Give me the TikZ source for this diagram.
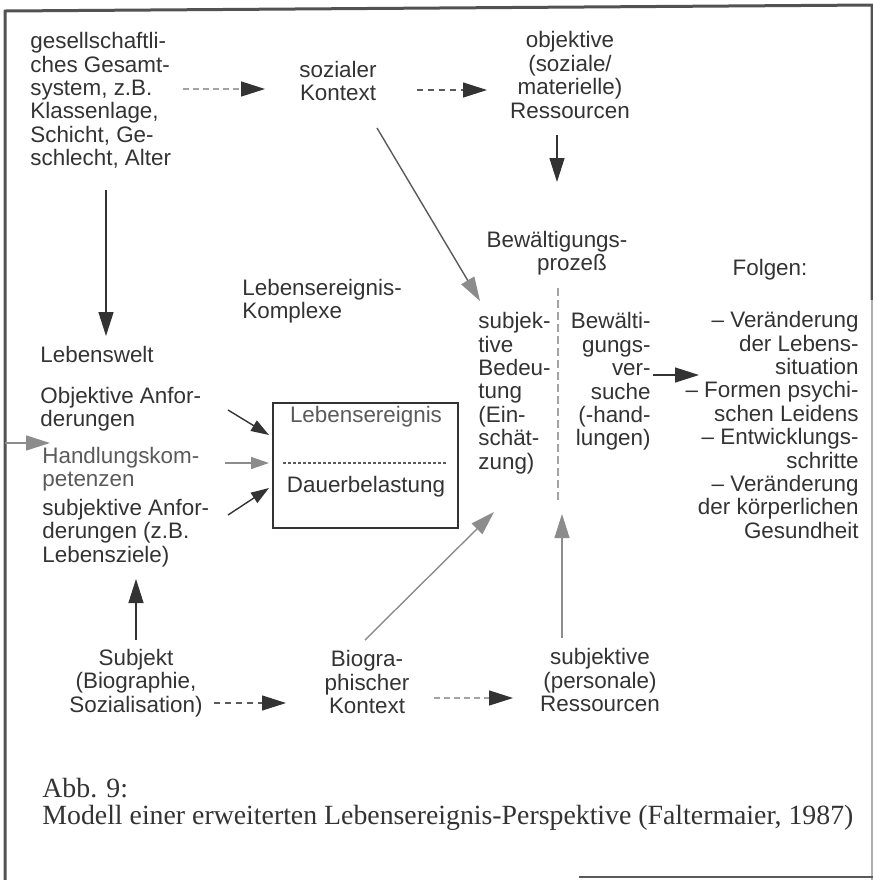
\documentclass[tikz,border=0pt]{standalone}
\usepackage{fontspec}
\setmainfont{Liberation Sans}
\newfontfamily\captionfont{Liberation Serif}
\usetikzlibrary{arrows.meta}

\definecolor{ink}{HTML}{333333}
\definecolor{inkmid}{HTML}{5A5A5A}
\definecolor{inklight}{HTML}{8C8C8C}

\tikzset{
  lbl/.style={inner sep=0pt, text=ink, font=\fontsize{11.2}{11.7}\selectfont},
  capt/.style={inner sep=0pt, text=ink, font=\captionfont\fontsize{13.9}{15}\selectfont},
  frame/.style={draw=ink!85, line width=1.5pt},
  framelight/.style={draw=inklight!70, line width=1.2pt},
  framebottom/.style={draw=inkmid, line width=1.2pt},
  arr/.style={draw=ink, line width=0.7pt, -{Triangle[length=12pt,width=7.5pt]}},
  arrlight/.style={draw=inklight, line width=0.7pt, -{Triangle[length=12pt,width=7.5pt,color=inklight]}},
  arrsmall/.style={draw=ink, line width=0.7pt, -{Triangle[length=9pt,width=6pt]}},
  dasharr/.style={draw=inkmid, line width=0.6pt, dash pattern=on 3pt off 2.5pt,
    -{Triangle[length=12pt,width=7.5pt,color=ink]}},
  dasharrlight/.style={draw=inklight!80, line width=0.7pt, dash pattern=on 3pt off 2pt,
    -{Triangle[length=12pt,width=7.5pt,color=ink]}},
  eventbox/.style={draw=ink, line width=0.8pt, minimum width=92.5pt, minimum height=62.5pt, inner sep=0pt},
  divider/.style={draw=inkmid, line width=0.6pt, dash pattern=on 1.5pt off 1pt},
  phase/.style={draw=inklight!80, line width=0.6pt, dash pattern=on 4pt off 2pt},
}

\begin{document}
\begin{tikzpicture}[x=0.5pt,y=-0.5pt]
\useasboundingbox (0,0) rectangle (873,880);

% outer frame
\draw[frame] (5,880) -- (5,11) -- (872,5) -- (872,300);
\draw[framelight] (872,300) -- (872,880);
\draw[framebottom] (579,877) -- (873,877);

% top row
\node[lbl, anchor=west, align=left] (gesamt) at (30,100.5)
  {gesellschaftli-\\ches Gesamt-\\system, z.B.\\Klassenlage,\\Schicht, Ge-\\schlecht, Alter};
\node[lbl, align=center] (sozial) at (338,81) {sozialer\\Kontext};
\node[lbl, align=center] (objres) at (570,75) {objektive\\(soziale/\\materielle)\\Ressourcen};

% middle labels
\node[lbl, anchor=west, align=left] (komplexe) at (242,301) {Lebensereignis-\\Komplexe};
\node[lbl, align=center] (prozess) at (557,253) {Bewältigungs-\\\hspace*{15pt}prozeß};
\node[lbl] (folgen) at (770,270) {Folgen:};

% life-world column
\node[lbl, anchor=west] (welt) at (40,354) {Lebenswelt};
\node[lbl, anchor=west, align=left] (objanf) at (40,409) {Objektive Anfor-\\derungen};
\node[lbl, anchor=west, align=left, text=inkmid] (handl) at (42,469) {Handlungskom-\\petenzen};
\node[lbl, anchor=west, align=left] (subjanf) at (42,533) {subjektive Anfor-\\derungen (z.B.\\Lebensziele)};

% life event box
\node[eventbox] (ereignis) at (365.5,465.5) {};
\node[lbl, text=inkmid] (ereigtxt) at (366,417) {Lebensereignis};
\node[lbl] (dauer) at (366,487) {Dauerbelastung};
\coordinate (sepL) at (283,463);
\coordinate (sepR) at (448,463);
\draw[divider] (sepL) -- (sepR);

% coping process
\node[lbl, anchor=west, align=left] (bedeutung) at (478,393)
  {subjek-\\tive\\Bedeu-\\tung\\(Ein-\\schät-\\zung)};
\node[lbl, anchor=east, align=right] (versuche) at (651,381.5)
  {Bewälti-\\gungs-\\ver-\\suche\\(-hand-\\lungen)};
\coordinate (phaseTop) at (558,288);
\coordinate (phaseBot) at (558,500);
\draw[phase] (phaseTop) -- (phaseBot);

\node[lbl, anchor=east, align=right] (folgenliste) at (859,425)
  {– Veränderung\\der Lebens-\\situation\\– Formen psychi-\\schen Leidens\\– Entwicklungs-\\schritte\\– Veränderung\\der körperlichen\\Gesundheit};

% bottom row
\node[lbl, align=center] (subjekt) at (136,683) {Subjekt\\(Biographie,\\Sozialisation)};
\node[lbl, align=center] (biogr) at (367,682) {Biogra-\\phischer\\Kontext};
\node[lbl, align=center] (subjres) at (600,680) {subjektive\\(personale)\\Ressourcen};

% caption
\node[capt, anchor=west] (abb) at (42,788) {Abb. 9:};
\node[capt, anchor=west] (titel) at (42,818)
  {Modell einer erweiterten Lebensereignis-Perspektive (Faltermaier, 1987)};

% connector end points
\coordinate (gesamtOut) at (183,89);
\coordinate (sozialIn) at (265,89);
\coordinate (sozialOut) at (417,90);
\coordinate (objresIn) at (487,90);
\coordinate (objresOut) at (557,135);
\coordinate (prozessIn) at (557,182);
\coordinate (sozialDiag) at (377,128);
\coordinate (bedeutungIn) at (480,301);
\coordinate (gesamtDown) at (106,190);
\coordinate (weltIn) at (106,336);
\coordinate (edgeIn) at (5,443);
\coordinate (handlIn) at (50,443);
\coordinate (objanfOut) at (228,410);
\coordinate (boxInA) at (269,435);
\coordinate (handlOut) at (225,463);
\coordinate (boxInB) at (269,463);
\coordinate (subjanfOut) at (228,515);
\coordinate (boxInC) at (269,488);
\coordinate (versucheOut) at (653,375);
\coordinate (folgenIn) at (699,375);
\coordinate (subjektUp) at (136,640);
\coordinate (subjanfIn) at (136,579);
\coordinate (subjektOut) at (214,703);
\coordinate (biogrIn) at (286,703);
\coordinate (biogrOut) at (434,698);
\coordinate (subjresIn) at (513,698);
\coordinate (biogrDiag) at (365,640);
\coordinate (bedeutungLow) at (494,512);
\coordinate (subjresUp) at (562,638);
\coordinate (phaseIn) at (562,514);

% connectors
\draw[dasharrlight] (gesamtOut) -- (sozialIn);
\draw[dasharr] (sozialOut) -- (objresIn);
\draw[arr] (objresOut) -- (prozessIn);
\draw[arrlight, draw=inkmid] (sozialDiag) -- (bedeutungIn);
\draw[arr] (gesamtDown) -- (weltIn);
\draw[arrlight] (edgeIn) -- (handlIn);
\draw[arrsmall] (objanfOut) -- (boxInA);
\draw[arrsmall, draw=inklight] (handlOut) -- (boxInB);
\draw[arrsmall] (subjanfOut) -- (boxInC);
\draw[arr] (versucheOut) -- (folgenIn);
\draw[arr] (subjektUp) -- (subjanfIn);
\draw[dasharr] (subjektOut) -- (biogrIn);
\draw[dasharrlight] (biogrOut) -- (subjresIn);
\draw[arrlight] (biogrDiag) -- (bedeutungLow);
\draw[arrlight] (subjresUp) -- (phaseIn);
\end{tikzpicture}
\end{document}
